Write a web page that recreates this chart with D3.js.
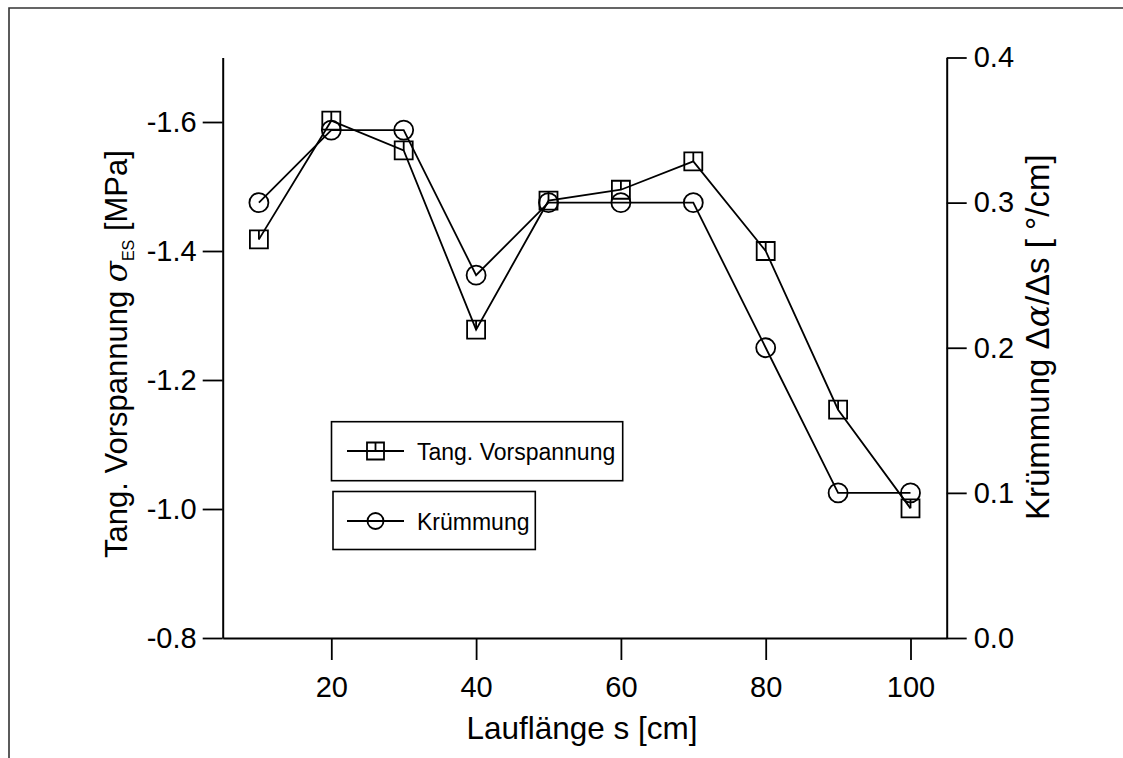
<!DOCTYPE html>
<html>
<head>
<meta charset="utf-8">
<script src="https://cdn.jsdelivr.net/npm/d3@7"></script>
<style>
  html, body { margin: 0; padding: 0; background: #fff; }
  svg { display: block; }
  text { font-family: "Liberation Sans", Arial, Helvetica, sans-serif; fill: #000; }
</style>
</head>
<body>
<script>
// Measurement positions along the running length (cm)
const positions = [10, 20, 30, 40, 50, 60, 70, 80, 90, 100];
// Tangential prestress sigma_ES (MPa), left axis
const stress = [-1.418, -1.602, -1.556, -1.278, -1.478, -1.495, -1.539, -1.400, -1.154, -1.001];
// Curvature delta-alpha / delta-s (deg/cm), right axis
const curvature = [0.30, 0.35, 0.35, 0.25, 0.30, 0.30, 0.30, 0.20, 0.10, 0.10];

const xTicks = [20, 40, 60, 80, 100];
const yLeftTicks = [-0.8, -1.0, -1.2, -1.4, -1.6];
const yRightTicks = [0.0, 0.1, 0.2, 0.3, 0.4];
const seriesNames = ["Tang. Vorspannung", "Krümmung"];

const W = 1123, H = 758;
const svg = d3.select("body").append("svg").attr("width", W).attr("height", H);

// outer frame (top and left edges)
svg.append("path")
  .attr("d", `M9,${H} V8 H${W}`)
  .attr("fill", "none").attr("stroke", "#333").attr("stroke-width", 1.6);

const plotL = 222.7, plotR = 946.7, plotT = 57.5, plotB = 638;

const x = d3.scaleLinear().domain([5, 105]).range([plotL, plotR]);
const yL = d3.scaleLinear().domain([-0.8, -1.7]).range([plotB, plotT]);
const yR = d3.scaleLinear().domain([0, 0.4]).range([plotB, plotT]);

const fmt = d => d.toFixed(1);

function styleAxis(g) {
  g.selectAll("path.domain").attr("stroke", "#000").attr("stroke-width", 2);
  g.selectAll(".tick line").attr("stroke", "#000").attr("stroke-width", 1.8);
  g.selectAll(".tick text").style("font-size", "29px")
    .style("font-family", "'Liberation Sans', Arial, sans-serif").attr("fill", "#000");
}

svg.append("g").attr("transform", `translate(0,${plotB})`)
  .call(d3.axisBottom(x).tickValues(xTicks).tickSize(22).tickSizeOuter(0).tickPadding(16))
  .call(styleAxis);

svg.append("g").attr("transform", `translate(${plotL},0)`)
  .call(d3.axisLeft(yL).tickValues(yLeftTicks).tickFormat(fmt).tickSize(20).tickSizeOuter(0).tickPadding(6))
  .call(styleAxis);

svg.append("g").attr("transform", `translate(${plotR},0)`)
  .call(d3.axisRight(yR).tickValues(yRightTicks).tickFormat(fmt).tickSize(20).tickSizeOuter(0).tickPadding(7))
  .call(styleAxis);

// axis titles
svg.append("text")
  .attr("x", 582).attr("y", 739)
  .attr("text-anchor", "middle").style("font-size", "31.5px")
  .text("Lauflänge s [cm]");

const tl = svg.append("text")
  .attr("transform", "translate(127,558) rotate(-90)")
  .attr("text-anchor", "start").style("font-size", "31px");
tl.append("tspan").text("Tang. Vorspannung ");
tl.append("tspan").style("font-style", "italic").style("font-family", "'DejaVu Serif', serif").text("σ");
tl.append("tspan").attr("dy", 7).style("font-size", "16px").text("ES");
tl.append("tspan").attr("dy", -7).text(" [MPa]");

const tr = svg.append("text")
  .attr("transform", "translate(1049,520) rotate(-90)")
  .attr("text-anchor", "start").style("font-size", "33px");
tr.append("tspan").text("Krümmung Δ");
tr.append("tspan").style("font-style", "italic").style("font-family", "'DejaVu Serif', serif").text("α");
tr.append("tspan").text("/Δs [ °/cm]");

// marker shapes
const squarePath = s => `M${-s},${-s}h${2 * s}v${2 * s}h${-2 * s}zM0,${-s}V0`;

const line = d3.line();

// stress series: squares, left axis
const stressPts = positions.map((p, i) => [x(p), yL(stress[i])]);
svg.append("path").attr("d", line(stressPts))
  .attr("fill", "none").attr("stroke", "#000").attr("stroke-width", 1.8);
svg.append("g").selectAll("path").data(stressPts).join("path")
  .attr("transform", d => `translate(${d[0]},${d[1]})`)
  .attr("d", squarePath(9))
  .attr("fill", "none").attr("stroke", "#000").attr("stroke-width", 1.8);

// curvature series: circles, right axis
const curvPts = positions.map((p, i) => [x(p), yR(curvature[i])]);
svg.append("path").attr("d", line(curvPts))
  .attr("fill", "none").attr("stroke", "#000").attr("stroke-width", 1.8);
svg.append("g").selectAll("circle").data(curvPts).join("circle")
  .attr("cx", d => d[0]).attr("cy", d => d[1]).attr("r", 9.5)
  .attr("fill", "none").attr("stroke", "#000").attr("stroke-width", 1.8);

// legend boxes
const legend = [
  { name: seriesNames[0], box: [331.5, 421.7, 622.7, 480.7], ly: 451, marker: "square" },
  { name: seriesNames[1], box: [333, 491.5, 535.3, 549.5], ly: 521, marker: "circle" }
];
legend.forEach(l => {
  const [x0, y0, x1, y1] = l.box;
  svg.append("rect").attr("x", x0).attr("y", y0).attr("width", x1 - x0).attr("height", y1 - y0)
    .attr("fill", "#fff").attr("stroke", "#000").attr("stroke-width", 1.6);
  svg.append("line").attr("x1", 347).attr("x2", 404).attr("y1", l.ly).attr("y2", l.ly)
    .attr("stroke", "#000").attr("stroke-width", 1.8);
  if (l.marker === "square") {
    svg.append("path").attr("transform", `translate(375.5,${l.ly})`).attr("d", squarePath(8.5))
      .attr("fill", "none").attr("stroke", "#000").attr("stroke-width", 1.8);
  } else {
    svg.append("circle").attr("cx", 375.5).attr("cy", l.ly).attr("r", 8)
      .attr("fill", "none").attr("stroke", "#000").attr("stroke-width", 1.8);
  }
  svg.append("text").attr("x", 417).attr("y", l.ly + 8.5)
    .style("font-size", "23px").text(l.name);
});
</script>
</body>
</html>
